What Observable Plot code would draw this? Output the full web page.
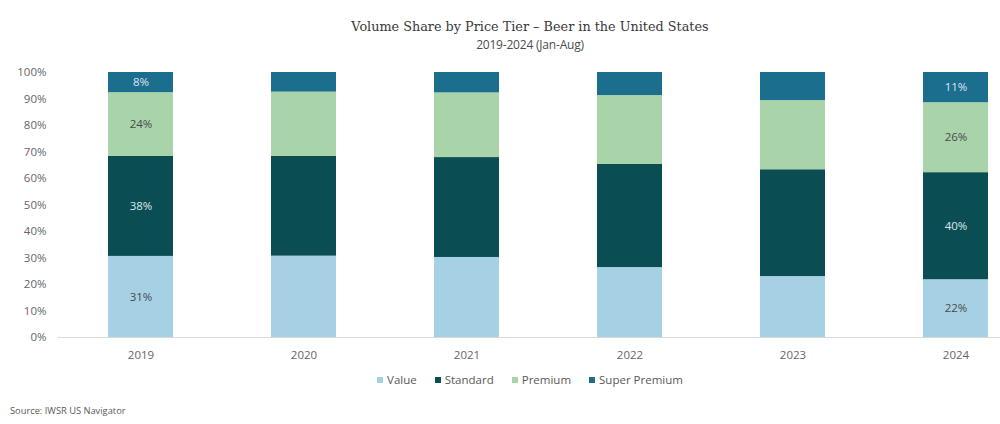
<!DOCTYPE html>
<html>
<head>
<meta charset="utf-8">
<script src="https://cdn.jsdelivr.net/npm/d3@7"></script>
<script src="https://cdn.jsdelivr.net/npm/@observablehq/plot@0.6"></script>
<style>
  html, body { margin: 0; padding: 0; background: #fff; overflow: hidden; }
  #chart { width: 1060px; font-family: "Open Sans", sans-serif; }
  .title { font-family: "DejaVu Serif", serif; font-size: 12.8px;
           color: #383838; text-align: center; line-height: 18px; padding-top: 18px; }
  .subtitle { font-size: 12px; color: #4d4d4d; text-align: center; line-height: 14px; margin-top: 2px; height: 22px;
              letter-spacing: -0.2px; }
  .legend { display: flex; justify-content: center; align-items: center; font-size: 11.5px; color: #595959;
            line-height: 14px; margin-top: 8px; }
  .legend .item { display: flex; align-items: center; margin: 0 9px; }
  .legend .sw { width: 6px; height: 6px; margin-right: 4px; }
  .source { font-size: 9.3px; color: #595959; line-height: 10px; margin-top: 19px; padding-left: 10px; }
  svg { display: block; }
</style>
</head>
<body>
<div id="chart">
  <div class="title">Volume Share by Price Tier – Beer in the United States</div>
  <div class="subtitle">2019-2024 (Jan-Aug)</div>
  <div id="plot"></div>
  <div class="legend" id="legend"></div>
  <div class="source">Source: IWSR US Navigator</div>
</div>
<script>
// Volume share (%) of US beer by price tier, Jan–Aug of each year
const years = ["2019", "2020", "2021", "2022", "2023", "2024"];
const tiers = ["Value", "Standard", "Premium", "Super Premium"];
const valueShare = [30.6, 30.7, 30.2, 26.4, 23.0, 21.8];
const standardShare = [37.7, 37.6, 37.7, 38.9, 40.3, 40.4];
const premiumShare = [24.1, 24.3, 24.4, 26.0, 26.1, 26.4];
const superPremiumShare = [7.6, 7.4, 7.7, 8.7, 10.6, 11.4];
const tierColors = ["#a6d1e4", "#0a4d53", "#a9d3a9", "#1c6e8f"];
const labeledYears = ["2019", "2024"];
const yTicks = [0, 10, 20, 30, 40, 50, 60, 70, 80, 90, 100];

const seriesByTier = [valueShare, standardShare, premiumShare, superPremiumShare];
const data = [];
years.forEach((year, i) => {
  tiers.forEach((tier, j) => data.push({year, tier, share: seriesByTier[j][i]}));
});

const darkTiers = new Set(["Standard", "Super Premium"]);
const pct = d => `${Math.round(d.share)}%`;
const labelFor = (dark) => d =>
  labeledYears.includes(d.year) && darkTiers.has(d.tier) === dark ? pct(d) : null;

const plot = Plot.plot({
  width: 1060,
  height: 305,
  marginTop: 12,
  marginBottom: 28,
  marginLeft: 58,
  marginRight: 21,
  style: {fontFamily: "Open Sans, sans-serif", fontSize: "11.5px", color: "#595959"},
  x: {domain: years, paddingInner: 0.6, paddingOuter: 0.3, label: null},
  y: {domain: [0, 100], label: null},
  color: {domain: tiers, range: tierColors},
  marks: [
    Plot.barY(data, {x: "year", y: "share", fill: "tier"}),
    Plot.text(data, Plot.stackY({x: "year", y: "share", z: "tier", text: labelFor(false), fill: "#4a4a4a", fontSize: 11.5})),
    Plot.text(data, Plot.stackY({x: "year", y: "share", z: "tier", text: labelFor(true), fill: "#dde8ec", fontSize: 11.5})),
    Plot.ruleY([0], {stroke: "#d9d9d9", strokeWidth: 1}),
    Plot.axisY({ticks: yTicks, tickSize: 0, tickPadding: 12, tickFormat: d => `${d}%`, fill: "#666", fontSize: 11.5}),
    Plot.axisX({tickSize: 0, tickPadding: 13, fill: "#666", fontSize: 11.5})
  ]
});
document.getElementById("plot").appendChild(plot);

// Legend swatches taken from the plot's color scale
const color = plot.scale("color");
const legend = document.getElementById("legend");
color.domain.forEach((tier, i) => {
  const item = document.createElement("div");
  item.className = "item";
  const sw = document.createElement("span");
  sw.className = "sw";
  sw.style.background = color.range[i];
  const label = document.createElement("span");
  label.textContent = tier;
  item.append(sw, label);
  legend.appendChild(item);
});
</script>
</body>
</html>
